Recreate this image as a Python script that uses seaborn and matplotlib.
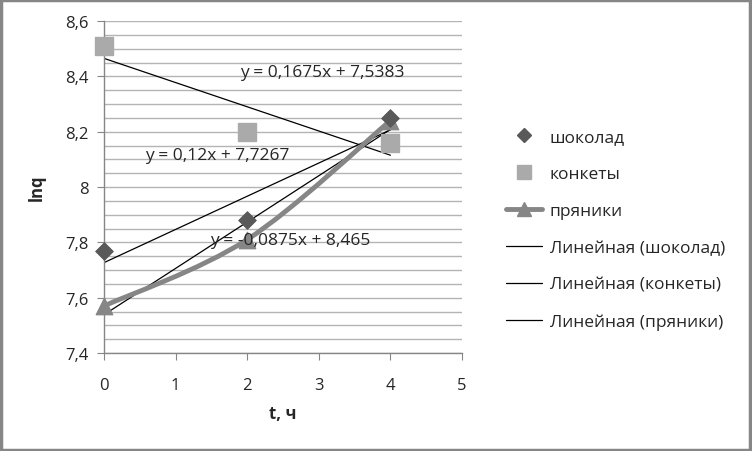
import matplotlib
matplotlib.use("Agg")
import matplotlib.pyplot as plt
from matplotlib.path import Path
from matplotlib.patches import PathPatch, Rectangle
from matplotlib.lines import Line2D
from matplotlib.ticker import FuncFormatter, MultipleLocator
import seaborn as sns
import numpy as np
import pandas as pd

# Данные
t = [0, 2, 4]
shokolad = [7.77, 7.88, 8.25]
konkety = [8.51, 8.20, 8.16]
pryaniki = [7.57, 7.81, 8.24]

df = pd.DataFrame({"t": t, "шоколад": shokolad, "конкеты": konkety, "пряники": pryaniki})

sns.set_style("white")
plt.rcParams["font.family"] = ["Open Sans", "DejaVu Sans"]

fig = plt.figure(figsize=(7.52, 4.52), dpi=100)
ax = fig.add_axes([0.1383, 0.2168, 0.4761, 0.7345])

# сетка
ax.yaxis.set_minor_locator(MultipleLocator(0.05))
ax.grid(True, which="both", axis="y", color="#b4b4b4", lw=1)
ax.set_axisbelow(True)


def fmt(v, pos=None):
    s = f"{v:.4f}".rstrip("0").rstrip(".")
    return s.replace(".", ",")


# линии тренда
for col in ["шоколад", "конкеты", "пряники"]:
    sns.regplot(data=df, x="t", y=col, ax=ax, scatter=False, ci=None,
                truncate=True, line_kws={"color": "black", "lw": 0.9})

# сглаженная линия для пряников (как в Excel)
px = np.array(t, dtype=float)
py = np.array(pryaniki)
verts = [(px[0], py[0])]
codes = [Path.MOVETO]
n = len(px)
for i in range(n - 1):
    p0 = np.array([px[max(i - 1, 0)], py[max(i - 1, 0)]])
    p1 = np.array([px[i], py[i]])
    p2 = np.array([px[i + 1], py[i + 1]])
    p3 = np.array([px[min(i + 2, n - 1)], py[min(i + 2, n - 1)]])
    c1 = p1 + (p2 - p0) / 6
    c2 = p2 - (p3 - p1) / 6
    verts += [tuple(c1), tuple(c2), tuple(p2)]
    codes += [Path.CURVE4] * 3
ax.add_patch(PathPatch(Path(verts, codes), fill=False, edgecolor="#868686",
                       lw=3.5, capstyle="round", zorder=3, clip_on=False))

sns.scatterplot(data=df, x="t", y="пряники", ax=ax, marker="^", s=140,
                color="#868686", edgecolor="#868686", zorder=4, clip_on=False)
sns.scatterplot(data=df, x="t", y="шоколад", ax=ax, marker="D", s=80,
                color="#595959", edgecolor="#595959", zorder=5, clip_on=False)
sns.scatterplot(data=df, x="t", y="конкеты", ax=ax, marker="s", s=150,
                color="#aaaaaa", edgecolor="#aaaaaa", zorder=5, clip_on=False)

# уравнения
eq_pos = {"пряники": (1.9, 8.416), "шоколад": (0.57, 8.116), "конкеты": (1.48, 7.808)}
for col, (xt, yt) in eq_pos.items():
    k, b = np.polyfit(df["t"], df[col], 1)
    txt = f"y = {fmt(k)}x + {fmt(b)}"
    ax.text(xt, yt, txt, fontsize=12.5, va="center", ha="left", zorder=6)

ax.set_xlim(0, 5)
ax.set_ylim(7.4, 8.6)
ax.set_xticks(range(6))
ax.set_yticks([7.4, 7.6, 7.8, 8.0, 8.2, 8.4, 8.6])
ax.yaxis.set_major_formatter(FuncFormatter(fmt))
ax.tick_params(axis="both", which="major", length=5, color="#868686",
               labelsize=12, direction="out", pad=6, bottom=True, left=True)
ax.tick_params(axis="y", which="minor", length=0)
ax.tick_params(axis="x", pad=12)
for s in ["top", "right"]:
    ax.spines[s].set_visible(False)
for s in ["left", "bottom"]:
    ax.spines[s].set_color("#868686")
    ax.spines[s].set_linewidth(1)

ax.set_xlabel("t, ч", fontsize=12, fontweight="bold", labelpad=8)
ax.set_ylabel("lnq", fontsize=12, fontweight="bold", labelpad=14)

handles = [
    Line2D([], [], ls="none", marker="D", ms=7, color="#595959"),
    Line2D([], [], ls="none", marker="s", ms=10, color="#aaaaaa"),
    Line2D([], [], lw=3.5, marker="^", ms=10, color="#868686"),
    Line2D([], [], lw=0.9, color="black"),
    Line2D([], [], lw=0.9, color="black"),
    Line2D([], [], lw=0.9, color="black"),
]
labels = ["шоколад", "конкеты", "пряники", "Линейная (шоколад)",
          "Линейная (конкеты)", "Линейная (пряники)"]
fig.legend(handles, labels, loc="upper left", bbox_to_anchor=(0.664, 0.728),
           frameon=False, fontsize=12.5, labelspacing=1.2, handlelength=2.05,
           handletextpad=0.45, borderaxespad=0)

fig.patches.append(Rectangle((0.001, 0.002), 0.997, 0.995, transform=fig.transFigure,
                             fill=False, edgecolor="#868686", lw=2.5))

fig.savefig("out.png", dpi=100)
